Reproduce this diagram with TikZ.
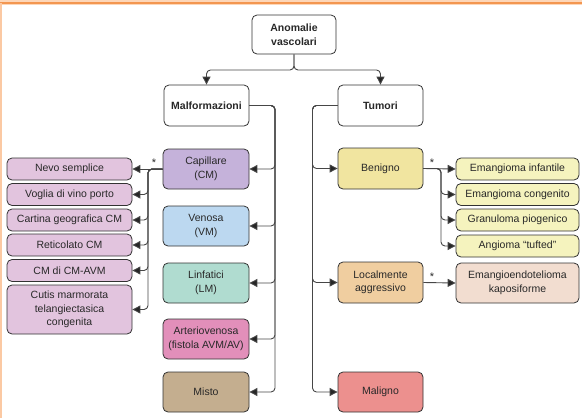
\documentclass[tikz,border=0pt]{standalone}
\usepackage{fontspec}
\setmainfont{Liberation Sans}
\usetikzlibrary{arrows.meta}

\definecolor{boxline}{RGB}{50,50,50}
\definecolor{linegray}{RGB}{70,70,70}
\definecolor{textgray}{RGB}{40,40,40}
\definecolor{framelight}{RGB}{253,214,184}
\definecolor{frameline}{RGB}{243,150,80}
\definecolor{capcol}{RGB}{197,178,218}
\definecolor{leafpink}{RGB}{226,196,222}
\definecolor{vencol}{RGB}{188,216,240}
\definecolor{lincol}{RGB}{176,220,208}
\definecolor{artcol}{RGB}{226,143,186}
\definecolor{mistocol}{RGB}{196,174,143}
\definecolor{bencol}{RGB}{241,229,160}
\definecolor{leafyellow}{RGB}{245,243,190}
\definecolor{loccol}{RGB}{240,206,160}
\definecolor{kapocol}{RGB}{242,221,208}
\definecolor{malcol}{RGB}{236,144,142}

\begin{document}
\begin{tikzpicture}[x=1pt, y=-1pt,
        % 通用樣式
        box/.style={draw=boxline, line width=0.8pt, rounded corners=5pt, align=center,
            inner sep=1pt, text=textgray, font=\fontsize{10.5}{13.5}\selectfont}, % 方框
        head/.style={box, fill=white, font=\bfseries\fontsize{10.5}{13.5}\selectfont}, % 標題方框
        branch/.style={box, minimum width=86pt, minimum height=40pt}, % 分類方框
        leaf/.style={box, minimum height=22pt}, % 細項方框
        arrow/.style={draw=linegray, line width=0.9pt, rounded corners=4pt,
            -{Triangle[length=8pt,width=8pt,fill=black!85]}}, % 箭頭
        star/.style={font=\fontsize{11}{11}\selectfont, text=textgray, inner sep=0pt} % 星號
    ]
        \useasboundingbox (0,0) rectangle (582,418);

        % --- 外框 ---
        \fill[framelight] (0,0) rectangle (582,4.5);
        \draw[frameline, line width=1.2pt] (0,3) -- (582,3);
        \draw[framelight!80!frameline, line width=1.5pt] (0.75,3) -- (0.75,418);

        % --- 上層 ---
        \node[head, minimum width=84pt, minimum height=39pt] (anomalie) at (294,34.5) {Anomalie\\vascolari};
        \node[head, minimum width=85pt, minimum height=41pt] (malf) at (206.5,105.5) {Malformazioni};
        \node[head, minimum width=85pt, minimum height=41pt] (tumori) at (380.5,105.5) {Tumori};

        \coordinate (split) at (294,70);
        \draw[arrow] (anomalie.south) -- (split) -| (malf.north);
        \draw[arrow] (anomalie.south) -- (split) -| (tumori.north);

        % --- 圖左: Malformazioni ---
        % 1. 分類方框
        \node[branch, fill=capcol] (capillare) at (206,169) {Capillare\\(CM)};
        \node[branch, fill=vencol] (venosa) at (206,226) {Venosa\\(VM)};
        \node[branch, fill=lincol] (linfatici) at (206,283) {Linfatici\\(LM)};
        \node[branch, fill=artcol] (arterio) at (206,339) {Arteriovenosa\\(fistola AVM/AV)};
        \node[branch, fill=mistocol] (misto) at (206,392) {Misto};

        % 2. 連接線
        \coordinate (mbus) at (275,0);
        \draw[arrow] (malf.east) -| (mbus |- capillare.east) -- (capillare.east);
        \draw[arrow] (malf.east) -| (mbus |- venosa.east) -- (venosa.east);
        \draw[arrow] (malf.east) -| (mbus |- linfatici.east) -- (linfatici.east);
        \draw[arrow] (malf.east) -| (mbus |- arterio.east) -- (arterio.east);
        \draw[arrow] (malf.east) -| (mbus |- misto.east) -- (misto.east);

        % 3. 細項方框 (CM)
        \node[leaf, fill=leafpink, minimum width=125pt] (nevo) at (69.5,169) {Nevo semplice};
        \node[leaf, fill=leafpink, minimum width=125pt] (voglia) at (69.5,194.5) {Voglia di vino porto};
        \node[leaf, fill=leafpink, minimum width=125pt] (cartina) at (69.5,220) {Cartina geografica CM};
        \node[leaf, fill=leafpink, minimum width=125pt] (reticolato) at (69.5,245) {Reticolato CM};
        \node[leaf, fill=leafpink, minimum width=125pt] (cmavm) at (69.5,270.5) {CM di CM-AVM};
        \node[leaf, fill=leafpink, minimum width=125pt, minimum height=49pt] (cutis) at (69.5,309.5) {Cutis marmorata\\telangiectasica\\congenita};

        \coordinate (cbus) at (148,0);
        \draw[arrow] (capillare.west) -- (nevo.east);
        \draw[arrow] (capillare.west) -| (cbus |- voglia.east) -- (voglia.east);
        \draw[arrow] (capillare.west) -| (cbus |- cartina.east) -- (cartina.east);
        \draw[arrow] (capillare.west) -| (cbus |- reticolato.east) -- (reticolato.east);
        \draw[arrow] (capillare.west) -| (cbus |- cmavm.east) -- (cmavm.east);
        \draw[arrow] (capillare.west) -| (cbus |- cutis.east) -- (cutis.east);
        \node[star] (starcap) at (154,162.5) {*};

        % --- 圖右: Tumori ---
        % 1. 分類方框
        \node[branch, fill=bencol, minimum width=85pt, minimum height=41pt] (benigno) at (380.5,168.5) {Benigno};
        \node[branch, fill=loccol, minimum width=85pt, minimum height=41pt] (localmente) at (380.5,282.5) {Localmente\\aggressivo};
        \node[branch, fill=malcol, minimum width=85pt] (maligno) at (380.5,392) {Maligno};

        % 2. 連接線
        \coordinate (tbus) at (312.5,0);
        \draw[arrow] (tumori.west) -| (tbus |- benigno.west) -- (benigno.west);
        \draw[arrow] (tumori.west) -| (tbus |- localmente.west) -- (localmente.west);
        \draw[arrow] (tumori.west) -| (tbus |- maligno.west) -- (maligno.west);

        % 3. 細項方框 (Benigno)
        \node[leaf, fill=leafyellow, minimum width=123pt] (infantile) at (517.5,169) {Emangioma infantile};
        \node[leaf, fill=leafyellow, minimum width=123pt] (congenito) at (517.5,194.5) {Emangioma congenito};
        \node[leaf, fill=leafyellow, minimum width=123pt] (granuloma) at (517.5,220) {Granuloma piogenico};
        \node[leaf, fill=leafyellow, minimum width=123pt] (angioma) at (517.5,246) {Angioma “tufted”};
        \node[leaf, fill=kapocol, minimum width=123pt, minimum height=40pt] (kaposi) at (517.5,283) {Emangioendotelioma\\kaposiforme};

        \coordinate (bbus) at (441,0);
        \draw[arrow] (benigno.east) -- (infantile.west);
        \draw[arrow] (benigno.east) -| (bbus |- congenito.west) -- (congenito.west);
        \draw[arrow] (benigno.east) -| (bbus |- granuloma.west) -- (granuloma.west);
        \draw[arrow] (benigno.east) -| (bbus |- angioma.west) -- (angioma.west);
        \draw[arrow] (localmente.east) -- (kaposi.west);
        \node[star] (starben) at (432,162.5) {*};
        \node[star] (starloc) at (432,276.5) {*};

    \end{tikzpicture}
\end{document}
